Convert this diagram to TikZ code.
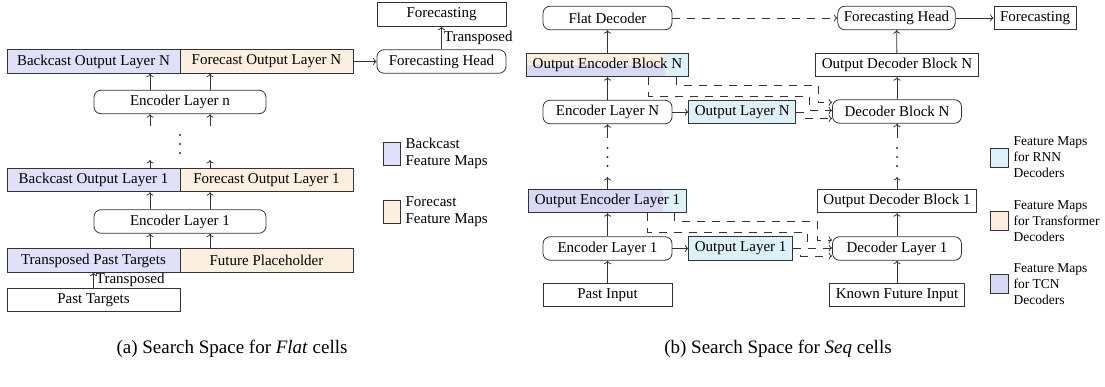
\documentclass[tikz,border=0pt]{standalone}
\usepackage{fontspec}
\setmainfont{Liberation Serif}
\usetikzlibrary{arrows.meta,positioning,calc}

\definecolor{backcol}{RGB}{224,224,250}
\definecolor{tcncol}{RGB}{216,216,247}
\definecolor{forecol}{RGB}{253,239,223}
\definecolor{rnncol}{RGB}{221,241,250}

\tikzset{
    box/.style={draw=black!80, line width=0.8pt, minimum height=23.5pt, inner xsep=6pt, inner ysep=0pt},
    layer/.style={box, rounded corners=7pt, minimum width=129pt},
    wide/.style={box, minimum width=173pt},
    legsq/.style={draw=black!80, line width=0.8pt, inner sep=0pt},
    flow/.style={draw=black!80, line width=0.8pt, -{To[length=3.5pt,width=7pt]}},
    skip/.style={flow, dash pattern=on 8pt off 7pt},
    tcnrnn/.style={path picture={
        \fill[tcncol] (path picture bounding box.south west) rectangle (path picture bounding box.north east);
        \fill[rnncol] ([xshift=-23pt]path picture bounding box.south east) rectangle (path picture bounding box.north east);}},
    alltypes/.style={path picture={
        \fill[tcncol] (path picture bounding box.south west) rectangle (path picture bounding box.north east);
        \fill[forecol] (path picture bounding box.west) rectangle (path picture bounding box.north east);
        \fill[rnncol] ([xshift=-23pt]path picture bounding box.south east) rectangle (path picture bounding box.north east);}}
}

\begin{document}
\begin{tikzpicture}[x=1pt, y=-1pt, font=\fontsize{15}{16.5}\selectfont]
    \useasboundingbox (0,0) rectangle (1105,387);

    % (a) Flat cells: stacked feature maps
    \node[wide, fill=backcol] (bkN) at (93.5,61.5) {Backcast Output Layer N};
    \node[wide, fill=forecol] (fcN) at (266.5,61.5) {Forecast Output Layer N};
    \node[layer, minimum width=172pt] (encn) at (180,102) {Encoder Layer n};
    \coordinate (dotsA) at (180,144);
    \node[wide, fill=backcol] (bk1) at (93.5,180) {Backcast Output Layer 1};
    \node[wide, fill=forecol] (fc1) at (266.5,180) {Forecast Output Layer 1};
    \node[layer, minimum width=172pt] (enc1) at (180,221.5) {Encoder Layer 1};
    \node[wide, fill=backcol] (tpt) at (93.5,260.5) {Transposed Past Targets};
    \node[wide, fill=forecol] (fph) at (266.5,260.5) {Future Placeholder};
    \node[wide] (pt) at (93.5,300) {Past Targets};

    % (a) head
    \node[layer] (fheadA) at (441.5,61.5) {Forecasting Head};
    \node[box, minimum width=129pt] (fcastA) at (441.5,14.5) {Forecasting};

    % (a) free ends around the dots
    \coordinate (encnIn) at (180,126);
    \coordinate (bk1Out) at (180,160);

    % (a) arcs
    \foreach \dx in {-30,30} {
        \draw[flow] ([xshift=\dx pt]fph.north -| encn.north) -- ([xshift=\dx pt]enc1.south);
        \draw[flow] ([xshift=\dx pt]enc1.north) -- ([xshift=\dx pt]enc1.north |- bk1.south);
        \draw[flow] ([xshift=\dx pt]bk1Out |- bk1.north) -- ([xshift=\dx pt]bk1Out);
        \draw[flow] ([xshift=\dx pt]encnIn) -- ([xshift=\dx pt]encn.south);
        \draw[flow] ([xshift=\dx pt]encn.north) -- ([xshift=\dx pt]encn.north |- bkN.south);
    }
    \draw[flow] (pt.north) -- node[right, inner xsep=2pt] {Transposed} (tpt.south);
    \draw[flow] (fcN.east) -- (fheadA.west);
    \draw[flow] (fheadA.north) -- node[right, inner xsep=2pt] {Transposed} (fcastA.south);

    % (a) legend
    \node[legsq, fill=backcol, minimum width=17pt, minimum height=23pt] (lgBk) at (391.5,153.5) {};
    \node[right=4pt of lgBk, align=left, inner sep=1pt] (lgBkTxt) {Backcast\\Feature Maps};
    \node[legsq, fill=forecol, minimum width=17pt, minimum height=23pt] (lgFc) at (391.5,211.5) {};
    \node[right=4pt of lgFc, align=left, inner sep=1pt] (lgFcTxt) {Forecast\\Feature Maps};

    % (b) Seq cells: encoder side
    \node[layer] (flat) at (607.5,18) {Flat Decoder};
    \node[box, alltypes] (oebN) at (607.5,65) {Output Encoder Block N};
    \node[layer] (encN) at (607.5,112) {Encoder Layer N};
    \node[box, fill=rnncol, right=16pt of encN] (olN) {Output Layer N};
    \coordinate (dotsB) at (607.5,157);
    \node[box, tcnrnn] (oel1) at (607.5,201) {Output Encoder Layer 1};
    \node[layer] (encB1) at (607.5,248.5) {Encoder Layer 1};
    \node[box, fill=rnncol, right=16pt of encB1] (ol1) {Output Layer 1};
    \node[box, minimum width=129pt] (pin) at (607.5,295) {Past Input};

    % (b) decoder side
    \node[layer, minimum width=117pt] (fheadB) at (896.5,18) {Forecasting Head};
    \node[box] (fcastB) at (1035,18) {Forecasting};
    \node[box] (odbN) at (897,65) {Output Decoder Block N};
    \node[layer] (decN) at (897,111.5) {Decoder Block N};
    \coordinate (dotsC) at (897,157);
    \node[box] (odb1) at (897,201) {Output Decoder Block 1};
    \node[layer] (dec1) at (897,248.5) {Decoder Layer 1};
    \node[box] (kfi) at (897,295) {Known Future Input};

    % vertical dots between the stacked layers
    \foreach \d in {dotsA,dotsB,dotsC}
        \foreach \dy in {-9,0,9}
            \fill[black!80] ($(\d)+(0,\dy)$) circle (1.1pt);

    % (b) free ends around the dots
    \coordinate (encNIn) at (607.5,138);
    \coordinate (oel1Out) at (607.5,177);
    \coordinate (decNIn) at (897,138);
    \coordinate (odb1Out) at (897,177);

    % (b) encoder arcs
    \draw[flow] (pin) -- (encB1);
    \draw[flow] (encB1) -- (oel1);
    \draw[flow] (encB1) -- (ol1);
    \draw[flow] (oel1) -- (oel1Out);
    \draw[flow] (encNIn) -- (encN);
    \draw[flow] (encN) -- (oebN);
    \draw[flow] (encN) -- (olN);
    \draw[flow] (oebN) -- (flat);

    % (b) decoder arcs
    \draw[flow] (kfi) -- (dec1);
    \draw[flow] (dec1) -- (odb1);
    \draw[flow] (odb1) -- (odb1Out);
    \draw[flow] (decNIn) -- (decN);
    \draw[flow] (decN) -- (odbN);
    \draw[flow] (odbN) -- (fheadB);
    \draw[flow] (fheadB) -- (fcastB);
    \draw[skip] (flat) -- (fheadB);

    % (b) feature maps handed to the decoder
    \draw[skip] ([xshift=-12pt]oebN.south east) -- ++(0,8) -| ([xshift=-14pt,yshift=9pt]decN.west) -- ([yshift=9pt]decN.west);
    \draw[skip] ([xshift=-40pt]oebN.south east) -- ++(0,19) -| ([xshift=-23pt,yshift=1pt]decN.west) -- ([yshift=1pt]decN.west);
    \draw[skip] (olN.east) -- ++(7,0) |- ([yshift=-7pt]decN.west);
    \draw[skip] ([xshift=-12pt]oel1.south east) -- ++(0,8) -| ([xshift=-15pt,yshift=8.5pt]dec1.west) -- ([yshift=8.5pt]dec1.west);
    \draw[skip] ([xshift=-39pt]oel1.south east) -- ++(0,19) -| ([xshift=-25pt,yshift=0.5pt]dec1.west) -- ([yshift=0.5pt]dec1.west);
    \draw[skip] (ol1.east) -- ++(8,0) |- ([yshift=-7.5pt]dec1.west);

    % (b) legend
    \begin{scope}[font=\fontsize{13.5}{16}\selectfont]
        \node[legsq, fill=rnncol, minimum width=18pt, minimum height=19pt] (lgRnn) at (999,157.5) {};
        \node[right=4pt of lgRnn, align=left, inner sep=1pt] (lgRnnTxt) {Feature Maps\\for RNN\\Decoders};
        \node[legsq, fill=forecol, minimum width=18pt, minimum height=19pt] (lgTrf) at (999,221) {};
        \node[right=4pt of lgTrf, align=left, inner sep=1pt] (lgTrfTxt) {Feature Maps\\for Transformer\\Decoders};
        \node[legsq, fill=tcncol, minimum width=18pt, minimum height=19pt] (lgTcn) at (999,284) {};
        \node[right=4pt of lgTcn, align=left, inner sep=1pt] (lgTcnTxt) {Feature Maps\\for TCN\\Decoders};
    \end{scope}

    % captions
    \node[font=\fontsize{19}{22}\selectfont] (capA) at (232,349) {(a) Search Space for \textit{Flat} cells};
    \node[font=\fontsize{19}{22}\selectfont] (capB) at (778,349) {(b) Search Space for \textit{Seq} cells};
\end{tikzpicture}
\end{document}
